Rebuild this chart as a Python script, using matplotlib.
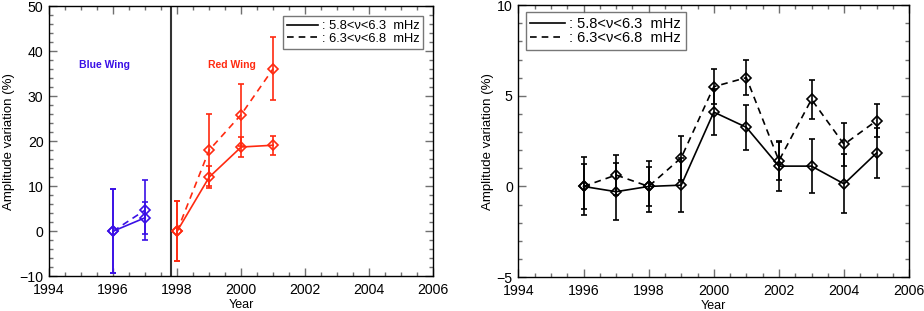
import numpy as np
import matplotlib
matplotlib.use("Agg")
from matplotlib import pyplot as plt
from matplotlib.lines import Line2D
from matplotlib.ticker import MultipleLocator

plt.rcParams['font.family'] = ['Liberation Sans', 'DejaVu Sans']

### Left panel data ###
blue_years = [1996, 1997]
blue_low = [0.0, 3.0]
blue_low_err = [9.3, 3.6]
blue_high = [0.0, 4.7]
blue_high_err = [9.3, 6.6]

red_years = [1998, 1999, 2000, 2001]
red_low = [0.0, 12.0, 18.7, 19.1]
red_low_err = [6.7, 2.4, 2.3, 2.1]
red_high = [0.0, 18.0, 25.9, 36.1]
red_high_err = [6.7, 8.0, 6.9, 7.0]

### Right panel data ###
years = [1996, 1997, 1998, 1999, 2000, 2001, 2002, 2003, 2004, 2005]
low = [0.0, -0.29, 0.0, 0.07, 4.1, 3.26, 1.12, 1.12, 0.14, 1.85]
low_err = [1.6, 1.58, 1.4, 1.5, 1.26, 1.25, 1.38, 1.5, 1.63, 1.38]
high = [0.0, 0.63, 0.0, 1.58, 5.5, 6.0, 1.42, 4.8, 2.32, 3.63]
high_err = [1.24, 1.1, 1.07, 1.2, 0.95, 0.95, 1.05, 1.07, 1.17, 0.92]

labels = [': 5.8<\u03bd<6.3  mHz', ': 6.3<\u03bd<6.8  mHz']

blue = '#3a10e6'
red = '#ff2a10'

fig = plt.figure(figsize=(9.24, 3.11), dpi=100)
ax1 = fig.add_axes([0.053, 0.1116, 0.416, 0.869])
ax2 = fig.add_axes([0.561, 0.109, 0.423, 0.8746])

def draw(ax, x, y, e, col, ls):
    ax.errorbar(x, y, yerr=e, color=col, ls=ls, lw=1.2, marker='D', ms=5,
                mfc='none', mec=col, mew=1.2, capsize=2, elinewidth=1.2,
                capthick=1.0, dashes=(4, 3) if ls == '--' else (None, None))

def style(ax, ymin, ymax, ymaj, ymin_step, ylab_x):
    ax.set_xlim(1994, 2006)
    ax.set_ylim(ymin, ymax)
    ax.xaxis.set_major_locator(MultipleLocator(2))
    ax.xaxis.set_minor_locator(MultipleLocator(0.5))
    ax.yaxis.set_major_locator(MultipleLocator(ymaj))
    ax.yaxis.set_minor_locator(MultipleLocator(ymin_step))
    ax.tick_params(which='both', direction='in', top=True, right=True,
                   color='#707070', labelsize=10.2)
    ax.tick_params(which='major', length=6, width=1)
    ax.tick_params(which='minor', length=3, width=1)
    ax.tick_params(axis='x', which='major', pad=5)
    ax.tick_params(axis='y', which='major', pad=4)
    for s in ax.spines.values():
        s.set_linewidth(1.0)
    ax.set_xlabel('Year', fontsize=9)
    ax.set_ylabel('Amplitude variation (%)', fontsize=9.5, va='center')
    ax.yaxis.set_label_coords(ylab_x, 0.5)
    ax.xaxis.set_label_coords(0.5, -0.085)
    ax.xaxis.label.set_va('top')

draw(ax1, blue_years, blue_low, blue_low_err, blue, '-')
draw(ax1, blue_years, blue_high, blue_high_err, blue, '--')
draw(ax1, red_years, red_low, red_low_err, red, '-')
draw(ax1, red_years, red_high, red_high_err, red, '--')
ax1.axvline(1997.8, color='#333333', lw=1.5)
ax1.text(1995.74, 37, 'Blue Wing', color=blue, fontsize=7.5, ha='center', va='center', fontweight='bold')
ax1.text(1999.7, 37, 'Red Wing', color=red, fontsize=7.5, ha='center', va='center', fontweight='bold')
style(ax1, -10, 50, 10, 2, -0.104)

draw(ax2, years, low, low_err, 'black', '-')
draw(ax2, years, high, high_err, 'black', '--')
style(ax2, -5, 10, 5, 1, -0.0775)

handles = [Line2D([0], [0], color='black', lw=1.2),
           Line2D([0], [0], color='black', lw=1.2, dashes=(4, 3))]
for ax, fs in ((ax1, 9.3), (ax2, 10.5)):
    leg = ax.legend(handles, labels, loc='upper right' if ax is ax1 else 'upper left',
                    fontsize=fs, frameon=True, fancybox=False, handlelength=2.4,
                    handletextpad=0.3, borderpad=0.3, labelspacing=0.05,
                    borderaxespad=0.8 if ax is ax1 else 0.5)
    leg.get_frame().set_edgecolor('#555555')
    leg.get_frame().set_linewidth(1.0)

fig.savefig('out.png', dpi=100)
